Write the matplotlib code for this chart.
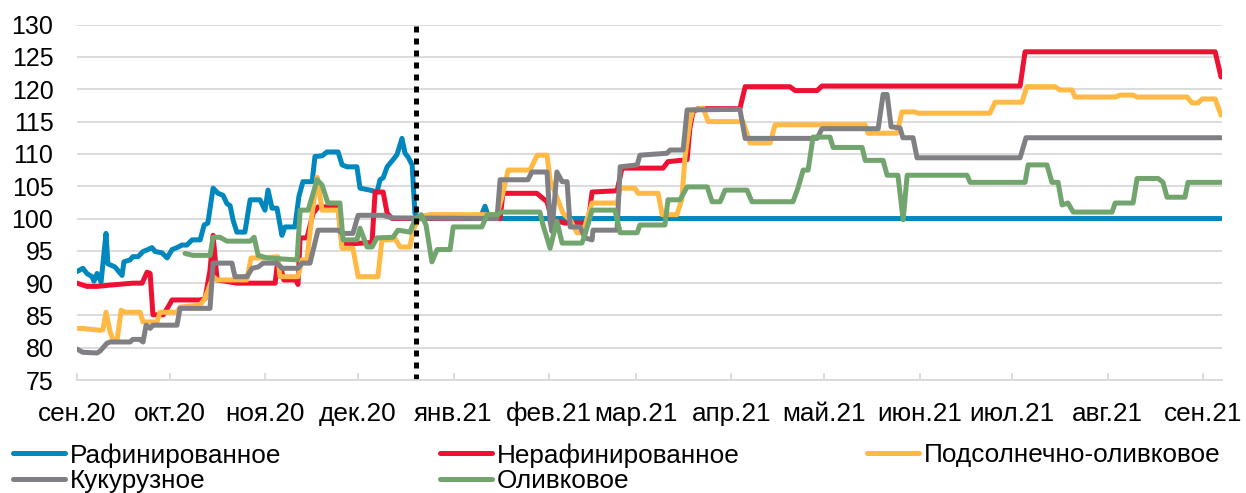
import matplotlib.pyplot as plt
import numpy as np
import pandas as pd

plt.rcParams['font.family'] = ['Liberation Sans', 'DejaVu Sans']

# дни от 01.09.2020 и значения индекса
start = pd.Timestamp('2020-09-01')

raf_day = [0, 1.9, 3.2, 4.9, 5.5, 6.5, 7.8, 9.4, 10, 12.3, 14.6, 15.2, 17.2, 18.1, 19.8,
           21.4, 23, 24.3, 25.3, 27.5, 29.2, 30.8, 32.4, 34, 35.6, 37.3, 39.9, 41.2, 42.4,
           44.1, 45.7, 47.3, 48.6, 49.6, 50.6, 51.8, 54.4, 56.1, 59.3, 60.9, 61.9, 63.2,
           64.8, 66.4, 67.4, 70.6, 71.9, 73.2, 76.2, 77.1, 79.4, 81, 84.6, 85.9, 87.5, 90.7,
           91.7, 94.9, 97.2, 98.2, 99.2, 100.5, 102.4, 103.7, 105.3, 106.3, 107.3, 108.6,
           109.5, 110.5, 130.6, 132.2, 133.5, 370.7]
raf_val = [91.8, 92.3, 91.5, 91.0, 90.3, 91.5, 90.2, 97.7, 93.0, 92.5, 91.2, 93.3, 93.6, 94.1, 94.1,
           94.9, 95.2, 95.5, 94.9, 94.7, 93.9, 95.2, 95.5, 95.9, 95.9, 96.7, 96.7, 99.0, 99.3,
           104.7, 103.9, 103.6, 102.3, 102.0, 99.7, 97.9, 97.9, 102.9, 102.9, 101.3, 104.4, 101.6,
           101.6, 97.4, 98.7, 98.7, 103.4, 105.7, 105.7, 109.6, 109.7, 110.3, 110.3, 108.3, 108.0, 108.0,
           104.7, 104.4, 104.1, 106.0, 106.3, 108.0, 109.1, 109.9, 112.4, 110.1, 109.5, 108.3,
           100.8, 100.0, 100.0, 101.9, 100.0, 100.0]

neraf_day = [0, 3.2, 6.5, 10.7, 18.1, 21.1, 22.7, 23.7, 24.6, 27.9, 29.5, 30.8, 39.9, 41.5,
             43.1, 44.1, 45.4, 51.8, 64.2, 64.8, 66, 67, 71, 71.6, 72.3, 74.5, 76.5, 78.1,
             84.6, 85.9, 95.6, 96.6, 99.2, 100.5, 102.1, 137.1, 138, 149, 152.3, 153.9, 158.1,
             165.6, 166.9, 175, 176.6, 189.9, 191.5, 197.7, 198.6, 199.6, 201.2, 214.8, 216.5,
             231, 232.7, 239.8, 241.4, 305.6, 307.2, 368.8, 370.7]
neraf_val = [90.0, 89.5, 89.5, 89.7, 90.0, 90.0, 91.7, 91.5, 85.1, 85.1, 86.3, 87.4, 87.4, 87.6,
             92.0, 97.4, 90.5, 90.0, 90.0, 92.5, 92.5, 90.5, 90.5, 89.8, 97.0, 97.0, 100.8, 101.8,
             101.8, 96.0, 96.3, 104.1, 104.1, 100.8, 100.0, 100.0, 103.9, 103.9, 102.6, 99.8, 99.3,
             99.3, 104.1, 104.3, 107.8, 107.8, 108.8, 109.1, 114.0, 116.5, 117.0, 117.0, 120.4,
             120.4, 119.8, 119.8, 120.5, 120.5, 125.8, 125.8, 121.9]

podsoln_day = [0, 1.9, 7.5, 8.4, 9.4, 10.7, 11.7, 13, 14.3, 15.6, 20.4, 21.4, 25.9, 26.9, 32.4,
               33.4, 39.9, 41.5, 44.1, 45.4, 55, 56.4, 60.3, 65.1, 65.8, 71.6, 72.9, 74.5, 76.2,
               77.8, 79.4, 84.6, 85.9, 89.4, 91.1, 97.5, 98.8, 101.4, 103, 104.7, 107.9, 108.9,
               111.1, 114.4, 136.1, 138, 139.7, 146.8, 149.1, 152.3, 153.3, 157.5, 159.8, 162,
               164, 165.3, 166.9, 175, 176, 180.8, 181.8, 188.3, 189.6, 194.4, 196, 197, 198.6,
               199.6, 202.9, 204.5, 215.8, 218.1, 224.6, 226.2, 255.4, 256.3, 265.7, 267.3, 271.5,
               272.5, 295.8, 297.5, 306.2, 307.8, 316.9, 318.5, 322.4, 323.4, 336.4, 338, 342.2,
               343.5, 359.7, 361.3, 363.3, 364.6, 368.8, 370.7]
podsoln_val = [83.0, 83.0, 82.7, 82.8, 85.5, 82.5, 81.2, 81.2, 85.8, 85.5, 85.5, 84.0, 84.0, 85.5, 85.5,
               86.3, 86.6, 87.7, 91.0, 90.5, 90.5, 93.9, 93.9, 94.1, 91.0, 91.0, 93.6, 93.6, 100.8,
               106.4, 101.3, 101.3, 95.4, 95.4, 91.0, 91.0, 96.7, 96.7, 96.9, 95.6, 95.6, 98.2,
               100.3, 100.6, 100.6, 103.9, 107.5, 107.5, 109.8, 109.8, 106.0, 100.8, 99.8, 97.8,
               97.8, 100.0, 102.4, 102.4, 104.7, 104.7, 103.9, 103.9, 100.6, 100.6, 103.0, 109.5, 115.0,
               116.8, 117.1, 115.0, 115.0, 111.7, 111.7, 114.5, 114.5, 113.2, 113.2, 116.5, 116.5,
               116.3, 116.3, 118.0, 118.0, 120.4, 120.4, 119.9, 119.9, 118.8, 118.8, 119.1, 119.1,
               118.8, 118.8, 117.9, 117.9, 118.5, 118.5, 116.0]

kukur_day = [0, 1.9, 6.5, 7.5, 9.7, 10.7, 17.2, 18.1, 20.4, 21.4, 22.4, 23.7, 24.6, 32.4, 33.4,
             43.1, 44.1, 50.2, 51.2, 55.1, 56.7, 58.7, 60.3, 64.8, 66.4, 71.6, 72.9, 75.5, 78.1,
             84.6, 85.9, 89.4, 91.1, 99.2, 102.1, 136.1, 137.1, 146.1, 147.4, 152.3, 153.3, 153.9,
             155.5, 157.2, 158.8, 159.8, 163, 164.6, 166.9, 167.2, 175, 176, 181.5, 182.4, 191.2,
             192.2, 196.4, 197.7, 214.8, 216.5, 239.8, 241.4, 259.6, 261.2, 262.5, 263.8, 266.7,
             267.6, 270.9, 272.2, 305.6, 307.5, 370.7]
kukur_val = [79.8, 79.3, 79.2, 79.5, 80.7, 80.9, 80.9, 81.3, 81.3, 80.9, 83.5, 83.0, 83.5, 83.5, 86.1,
             86.1, 93.1, 93.1, 91.0, 91.0, 92.3, 92.5, 93.1, 93.1, 92.3, 92.3, 93.1, 93.1, 98.2,
             98.2, 97.7, 97.7, 100.5, 100.5, 100.1, 100.0, 106.0, 106.0, 107.2, 107.2, 99.5, 98.0,
             107.2, 105.7, 105.7, 98.7, 98.7, 97.0, 96.7, 98.2, 98.2, 108.0, 108.3, 109.8, 110.1,
             110.6, 110.6, 116.8, 116.9, 112.4, 112.4, 113.9, 113.9, 119.2, 119.2, 114.2, 114.0,
             112.5, 112.5, 109.4, 109.4, 112.5, 112.5]

oliv_day = [35, 37.6, 43.1, 44.1, 46.3, 48.6, 56.1, 57.4, 58.7, 61.6, 71.3, 72.3, 74.9, 77.8, 79.4,
            81.3, 85.2, 86.2, 90.7, 91.7, 94, 95.6, 97.2, 102.4, 104, 107.9, 109.5, 111.5, 113.1,
            115, 116.7, 120.9, 121.9, 131.2, 132.9, 136.1, 137.7, 150, 151, 153.3, 155.5, 157.2,
            163.6, 164.6, 166.9, 174.3, 176, 181.5, 182.4, 190.5, 191.5, 195.4, 197.7, 204.2,
            205.8, 208.4, 210, 217.1, 218.7, 232, 233.6, 235.3, 236.9, 238.5, 244, 245, 254.4,
            255.4, 261.2, 262.5, 266, 267.7, 269, 288.4, 289.4, 307.2, 308.2, 314.3, 315.9, 317.9,
            319.2, 321.1, 322.8, 335.4, 336.4, 342.2, 343.5, 350.3, 351.9, 353.2, 359, 360, 370.7]
oliv_val = [94.6, 94.3, 94.3, 97.1, 97.1, 96.5, 96.5, 97.1, 94.3, 93.9, 93.6, 101.3, 101.3, 106.0, 105.2,
            102.4, 102.4, 96.7, 96.7, 98.5, 95.6, 95.6, 97.0, 97.1, 98.2, 97.9, 99.8, 100.6, 99.0,
            93.3, 95.2, 95.2, 98.7, 98.7, 100.6, 100.6, 101.0, 101.0, 99.0, 95.4, 99.6, 96.2,
            96.2, 97.5, 101.3, 101.3, 97.8, 97.8, 99.0, 99.0, 102.9, 102.9, 104.9, 104.9,
            102.6, 102.6, 104.4, 104.4, 102.6, 102.6, 104.7, 107.5, 107.5, 112.6, 112.6, 111.0, 111.0,
            109.0, 109.0, 106.7, 106.7, 99.8, 106.7, 106.7, 105.6, 105.6, 108.3, 108.3, 105.6, 105.6,
            102.1, 102.4, 101.0, 101.0, 102.4, 102.4, 106.2, 106.2, 105.6, 103.3, 103.3, 105.6, 105.6]

names = ['Рафинированное', 'Нерафинированное', 'Подсолнечно-оливковое', 'Кукурузное', 'Оливковое']
colors = ['#0088be', '#ee1133', '#ffb944', '#7f7f84', '#72a46e']

month_labels = ['сен.20', 'окт.20', 'ноя.20', 'дек.20', 'янв.21', 'фев.21', 'мар.21',
                'апр.21', 'май.21', 'июн.21', 'июл.21', 'авг.21', 'сен.21']
break_date = pd.Timestamp('2020-12-20')

series = [(raf_day, raf_val), (neraf_day, neraf_val), (podsoln_day, podsoln_val),
          (kukur_day, kukur_val), (oliv_day, oliv_val)]

fig, ax = plt.subplots(figsize=(12.46, 4.93), dpi=100)
fig.subplots_adjust(left=0.0618, right=0.9807, top=0.95, bottom=0.229)

lines = []
for (d, v), name, c in zip(series, names, colors):
    dates = start + pd.to_timedelta(d, unit='D')
    ln, = ax.plot(dates, v, color=c, lw=3.6, label=name,
                  solid_capstyle='round', solid_joinstyle='round')
    lines.append(ln)

ax.axvline(break_date, color='black', lw=3.6, ls=(0, (1.2, 1.2)), dash_capstyle='butt')

ax.set_ylim(75, 130)
ax.set_yticks(np.arange(75, 131, 5))
ax.yaxis.grid(True, color='#d9d9d9', lw=1.3)
ax.set_axisbelow(True)

ticks = pd.date_range('2020-09-01', '2021-09-01', freq='MS')
ax.set_xticks(ticks, month_labels)
ax.set_xlim(start, start + pd.Timedelta(days=371))

for s in ['top', 'right', 'left']:
    ax.spines[s].set_visible(False)
ax.spines['bottom'].set_color('#d9d9d9')
ax.spines['bottom'].set_linewidth(1.3)

ax.tick_params(axis='y', length=0, pad=17, labelsize=18)
ax.tick_params(axis='x', direction='in', length=5, width=1.3, color='#d9d9d9',
               pad=15.5, labelsize=18.8)

# легенда в три колонки
cols = [([0, 3], 13), ([1, 4], 440), ([2], 867)]
for idx, px in cols:
    fig.legend(handles=[lines[i] for i in idx], loc='upper left',
               bbox_to_anchor=(px / 1246, 1 - 443 / 493), frameon=False,
               fontsize=18.8, handlelength=2.0, handletextpad=0.19,
               borderpad=0, borderaxespad=0, labelspacing=0.06)

fig.savefig('out.png', dpi=100)
